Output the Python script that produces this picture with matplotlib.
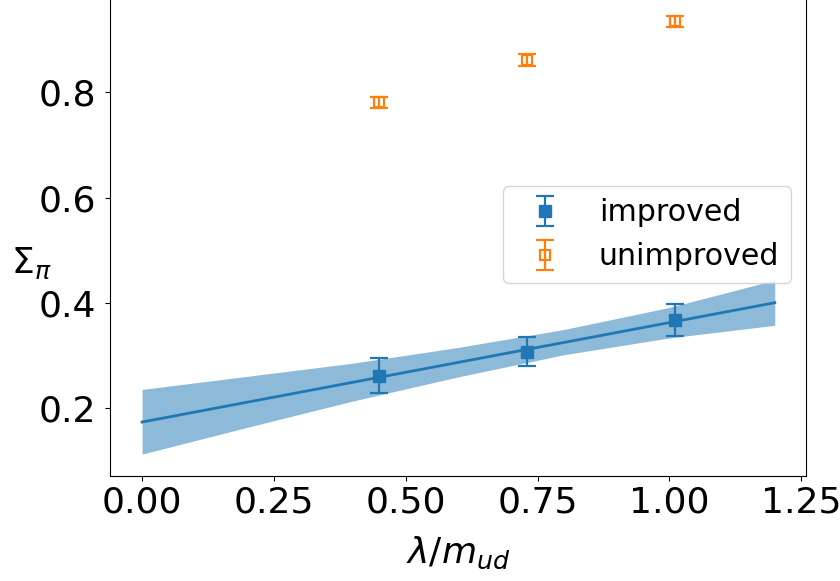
import numpy as np
import matplotlib
matplotlib.use("Agg")
import matplotlib.pyplot as plt

# data
x_pts = [0.45, 0.73, 1.01]
improved = [0.261, 0.307, 0.367]
improved_err = [0.033, 0.028, 0.031]
unimproved = [0.781, 0.862, 0.935]
unimproved_err = [0.010, 0.011, 0.011]

# fit line and its error band
fit_x = [0.0, 1.2]
fit_y = [0.173, 0.400]
band_x = [0.0, 0.2, 0.4, 0.6, 0.8, 1.0, 1.2]
band_lo = [0.112, 0.163, 0.213, 0.259, 0.301, 0.333, 0.357]
band_hi = [0.235, 0.260, 0.285, 0.315, 0.349, 0.391, 0.443]

fig = plt.figure(figsize=(8.4, 5.81), dpi=100)
ax = fig.add_axes([0.1315, 0.1807, 0.8285, 0.830])

ax.fill_between(band_x, band_lo, band_hi, color="C0", alpha=0.5, lw=0)
ax.plot(fit_x, fit_y, color="C0", lw=2)

ax.errorbar(x_pts, improved, yerr=improved_err, fmt="s", color="C0",
            ms=8.5, capsize=6.7, capthick=1.6, elinewidth=1.6, label="improved")
ax.errorbar(x_pts, unimproved, yerr=unimproved_err, fmt="s", color="C1",
            mfc="none", ms=6.5, mew=1.6, capsize=6.7, capthick=1.6,
            elinewidth=1.6, label="unimproved")

ax.set_xticks([0.0, 0.25, 0.5, 0.75, 1.0, 1.25])
ax.set_yticks([0.2, 0.4, 0.6, 0.8])
ax.tick_params(labelsize=26)
ax.tick_params(axis="y", pad=7)

ax.set_xlabel(r"$\lambda/m_{ud}$", fontsize=26, labelpad=11)
ax.set_ylabel(r"$\Sigma_\pi$", fontsize=26, rotation=0, ha="center", va="center")
ax.yaxis.set_label_coords(-0.113, 0.44)

ax.legend(loc="center right", fontsize=21.6)

fig.savefig("out.png", dpi=100)
